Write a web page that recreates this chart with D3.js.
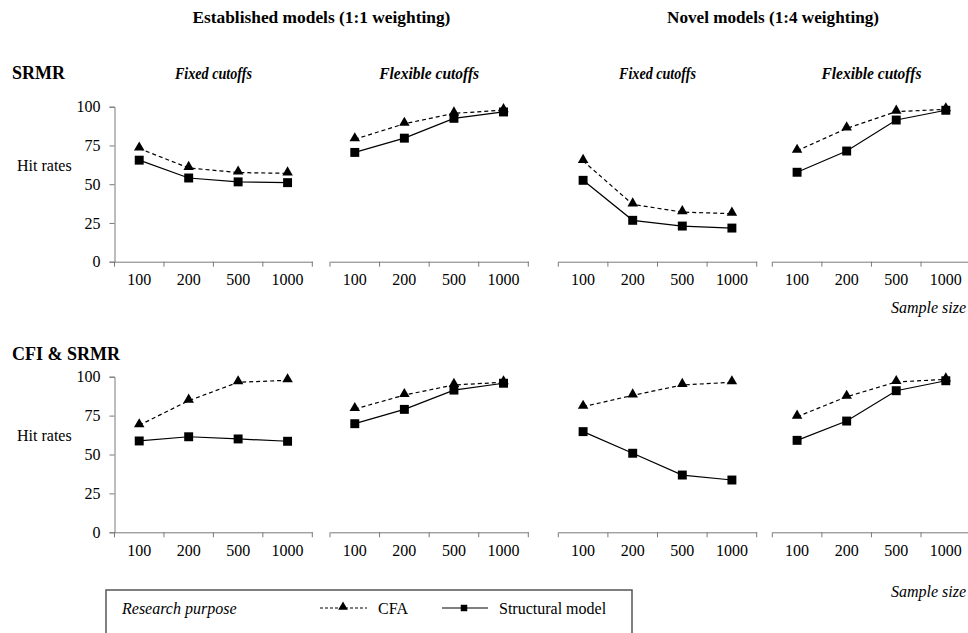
<!DOCTYPE html>
<html>
<head>
<meta charset="utf-8">
<script src="https://cdn.jsdelivr.net/npm/d3@7"></script>
<style>
  body { margin: 0; background: #fff; }
  svg text { font-family: "Liberation Serif", "Times New Roman", Tinos, "DejaVu Serif", serif !important; }
</style>
</head>
<body>
<div id="chart"></div>
<script>
// sample sizes on the x axis of every panel
var sampleSizes = ["100", "200", "500", "1000"];
var yTicks = [0, 25, 50, 75, 100];

// hit rates, SRMR row
var srmrEstFixedCFA = [73, 60.5, 57.5, 57];
var srmrEstFixedSM = [65.5, 54, 51.5, 51];
var srmrEstFlexCFA = [79, 89, 95.7, 97.8];
var srmrEstFlexSM = [70.5, 79.7, 92.5, 96.6];
var srmrNovFixedCFA = [65, 37, 32, 31];
var srmrNovFixedSM = [52.5, 26.7, 23, 21.7];
var srmrNovFlexCFA = [71.6, 86, 96.8, 98.3];
var srmrNovFlexSM = [57.7, 71.4, 91.4, 97.7];

// CFI & SRMR row
var cfiEstFixedCFA = [68.8, 84.6, 96.4, 97.7];
var cfiEstFixedSM = [58.7, 61.4, 60, 58.5];
var cfiEstFlexCFA = [79.2, 88.2, 94.7, 96.4];
var cfiEstFlexSM = [69.8, 79, 91.4, 95.8];
var cfiNovFixedCFA = [80.7, 88, 94.7, 96.4];
var cfiNovFixedSM = [64.7, 50.8, 36.8, 33.6];
var cfiNovFlexCFA = [74.3, 87.1, 96.6, 98.3];
var cfiNovFlexSM = [59.1, 71.5, 91, 97.4];

var width = 968;
var height = 633;
var serif = "'Liberation Serif', 'Times New Roman', Tinos, 'DejaVu Serif', serif";

var svg = d3.select("#chart")
    .append("svg")
    .attr("width", width)
    .attr("height", height)
    .attr("font-family", serif);

// horizontal extent of the four panel columns
var columns = [
    {x0: 114.5, x1: 312.3, sub: "Fixed cutoffs"},
    {x0: 330, x1: 528.3, sub: "Flexible cutoffs"},
    {x0: 558.3, x1: 756.7, sub: "Fixed cutoffs"},
    {x0: 772.3, x1: 970.6, sub: "Flexible cutoffs"}
];

var rows = [
    {title: "SRMR", titleY: 79, y0: 261.7, y100: 106.7, sampleY: 313,
     panels: [[srmrEstFixedCFA, srmrEstFixedSM], [srmrEstFlexCFA, srmrEstFlexSM],
              [srmrNovFixedCFA, srmrNovFixedSM], [srmrNovFlexCFA, srmrNovFlexSM]]},
    {title: "CFI & SRMR", titleY: 360, y0: 532.3, y100: 376.7, sampleY: 597,
     panels: [[cfiEstFixedCFA, cfiEstFixedSM], [cfiEstFlexCFA, cfiEstFlexSM],
              [cfiNovFixedCFA, cfiNovFixedSM], [cfiNovFlexCFA, cfiNovFlexSM]]}
];

var axisColor = "#7a7a7a";
var triangle = d3.symbol().type(d3.symbolTriangle).size(48);
var square = d3.symbol().type(d3.symbolSquare).size(80);

//top headers, centred over each pair of panels; the originals are a tall condensed bold face
svg.append("text")
    .attr("x", (columns[0].x0 + columns[1].x1) / 2).attr("y", 23)
    .attr("text-anchor", "middle")
    .style("font-size", "17px").style("font-weight", "bold")
    .attr("textLength", 258).attr("lengthAdjust", "spacingAndGlyphs")
    .text("Established models  (1:1 weighting)");

svg.append("text")
    .attr("x", 773).attr("y", 23)
    .attr("text-anchor", "middle")
    .style("font-size", "17px").style("font-weight", "bold")
    .attr("textLength", 212).attr("lengthAdjust", "spacingAndGlyphs")
    .text("Novel models (1:4 weighting)");

//subtitles above the first row
columns.forEach(c => {
    svg.append("text")
        .attr("x", (c.x0 + c.x1) / 2)
        .attr("y", 79)
        .attr("text-anchor", "middle")
        .style("font-size", "16px").style("font-weight", "bold").style("font-style", "italic")
        .attr("textLength", c.sub == "Fixed cutoffs" ? 77 : 100)
        .attr("lengthAdjust", "spacingAndGlyphs")
        .text(c.sub);
});

rows.forEach(row => {
    var y = d3.scaleLinear().domain([0, 100]).range([row.y0, row.y100]);

    svg.append("text")
        .attr("x", 12).attr("y", row.titleY)
        .style("font-size", "18px").style("font-weight", "bold")
        .text(row.title);

    //y axis only on the first panel
    var yAxis = svg.append("g")
        .attr("transform", "translate(" + columns[0].x0 + ",0)")
        .call(d3.axisLeft(y).tickValues(yTicks).tickSize(5).tickPadding(9))
        .attr("font-family", serif);
    yAxis.select(".domain").attr("stroke", axisColor);
    yAxis.selectAll(".tick line").attr("stroke", axisColor);
    yAxis.selectAll(".tick text")
        .attr("fill", "#000")
        .style("font-size", "16px");

    svg.append("text")
        .attr("x", 17).attr("y", y(62) + 5)
        .style("font-size", "16px")
        .text("Hit rates");

    svg.append("text")
        .attr("x", 966).attr("y", row.sampleY)
        .attr("text-anchor", "end")
        .style("font-size", "16px").style("font-style", "italic")
        .text("Sample size");

    columns.forEach((c, i) => {
        var x = d3.scaleBand().domain(sampleSizes).range([c.x0, c.x1]);
        var g = svg.append("g");

        //category axis with ticks between the bands
        var xAxis = g.append("g")
            .attr("transform", "translate(0," + row.y0 + ")")
            .call(d3.axisBottom(x).tickSize(0).tickPadding(12))
            .attr("font-family", serif);
        xAxis.select(".domain").attr("stroke", axisColor);
        xAxis.selectAll(".tick text")
            .attr("fill", "#000")
            .style("font-size", "16px");
        g.selectAll(".sep")
            .data(sampleSizes.concat(["end"]))
            .enter().append("line")
            .attr("x1", (d, k) => k < sampleSizes.length ? x(d) : c.x1)
            .attr("x2", (d, k) => k < sampleSizes.length ? x(d) : c.x1)
            .attr("y1", row.y0)
            .attr("y2", row.y0 + 5)
            .attr("stroke", axisColor);

        var cfa = row.panels[i][0];
        var sm = row.panels[i][1];
        var cx = k => x(sampleSizes[k]) + x.bandwidth() / 2;
        var line = d3.line().x((d, k) => cx(k)).y(d => y(d));

        g.append("path")
            .attr("d", line(sm))
            .attr("fill", "none")
            .attr("stroke", "#000")
            .attr("stroke-width", 1.2);

        g.append("path")
            .attr("d", line(cfa))
            .attr("fill", "none")
            .attr("stroke", "#000")
            .attr("stroke-width", 1.2)
            .attr("stroke-dasharray", "4,3");

        g.selectAll(".sm")
            .data(sm)
            .enter().append("path")
            .attr("d", square)
            .attr("transform", (d, k) => "translate(" + cx(k) + "," + y(d) + ")")
            .attr("fill", "#000");

        g.selectAll(".cfa")
            .data(cfa)
            .enter().append("path")
            .attr("d", triangle)
            .attr("transform", (d, k) => "translate(" + cx(k) + "," + (y(d) - 1) + ")")
            .attr("fill", "#000");
    });
});

//legend box at the bottom
var legend = svg.append("g");
legend.append("rect")
    .attr("x", 106).attr("y", 590)
    .attr("width", 526).attr("height", 60)
    .attr("fill", "none")
    .attr("stroke", "#555")
    .attr("stroke-width", 1.5);

legend.append("text")
    .attr("x", 122).attr("y", 614)
    .style("font-size", "16px").style("font-style", "italic")
    .text("Research purpose");

legend.append("line")
    .attr("x1", 320).attr("x2", 367).attr("y1", 608).attr("y2", 608)
    .attr("stroke", "#000").attr("stroke-width", 1)
    .attr("stroke-dasharray", "3,2");
legend.append("path")
    .attr("d", d3.symbol().type(d3.symbolTriangle).size(40))
    .attr("transform", "translate(343,607)")
    .attr("fill", "#000");
legend.append("text")
    .attr("x", 378).attr("y", 614)
    .style("font-size", "16px")
    .text("CFA");

legend.append("line")
    .attr("x1", 442).attr("x2", 488).attr("y1", 608).attr("y2", 608)
    .attr("stroke", "#000").attr("stroke-width", 1.2);
legend.append("path")
    .attr("d", d3.symbol().type(d3.symbolSquare).size(42))
    .attr("transform", "translate(464,608)")
    .attr("fill", "#000");
legend.append("text")
    .attr("x", 499).attr("y", 614)
    .style("font-size", "16px")
    .text("Structural model");
</script>
</body>
</html>
